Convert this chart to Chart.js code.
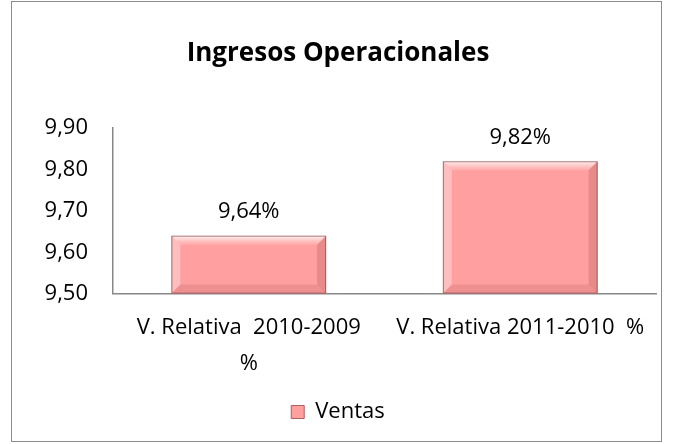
<!DOCTYPE html>
<html>
<head>
<meta charset="utf-8">
<script src="https://cdn.jsdelivr.net/npm/chart.js@4"></script>
<style>
  html, body { margin: 0; padding: 0; background: #fff; }
  #wrap { position: relative; width: 673px; height: 444px; }
  #frame { position: absolute; left: 11px; top: 1px; width: 649px; height: 439px; border: 1px solid #8c8c8c; }
  canvas { position: absolute; left: 0; top: 0; }
</style>
</head>
<body>
<div id="wrap">
  <div id="frame"></div>
  <canvas id="chart" width="673" height="444"></canvas>
</div>
<script>
const categories = [['V. Relativa  2010-2009', '%'], 'V. Relativa 2011-2010  %'];
const ventas = [9.64, 9.82];
const valueLabels = ['9,64%', '9,82%'];
const yTicks = [9.5, 9.6, 9.7, 9.8, 9.9];

const FONT = '"Open Sans", sans-serif';
const barFill = 'rgb(255,159,159)';

// bevelled look of the bars + value labels above them
const bevelPlugin = {
    id: 'bevel',
    afterDatasetsDraw(chart) {
        const ctx = chart.ctx;
        const meta = chart.getDatasetMeta(0);
        meta.data.forEach((bar, i) => {
            const l = bar.x - bar.width / 2, r = bar.x + bar.width / 2;
            const t = bar.y, b = Math.min(bar.base, chart.chartArea.bottom);
            const d = 9;
            ctx.save();
            // top
            let g = ctx.createLinearGradient(0, t, 0, t + d);
            g.addColorStop(0, 'rgba(255,255,255,0.9)');
            g.addColorStop(1, 'rgba(255,200,200,0.3)');
            ctx.fillStyle = g;
            ctx.beginPath();
            ctx.moveTo(l, t); ctx.lineTo(r, t); ctx.lineTo(r - d, t + d); ctx.lineTo(l + d, t + d); ctx.closePath();
            ctx.fill();
            // left
            ctx.fillStyle = 'rgba(255,215,215,0.55)';
            ctx.beginPath();
            ctx.moveTo(l, t); ctx.lineTo(l + d, t + d); ctx.lineTo(l + d, b - d); ctx.lineTo(l, b); ctx.closePath();
            ctx.fill();
            // right
            ctx.fillStyle = 'rgba(180,90,90,0.3)';
            ctx.beginPath();
            ctx.moveTo(r, t); ctx.lineTo(r - d, t + d); ctx.lineTo(r - d, b - d); ctx.lineTo(r, b); ctx.closePath();
            ctx.fill();
            // bottom
            ctx.fillStyle = 'rgba(190,100,100,0.25)';
            ctx.beginPath();
            ctx.moveTo(l, b); ctx.lineTo(l + d, b - d); ctx.lineTo(r - d, b - d); ctx.lineTo(r, b); ctx.closePath();
            ctx.fill();
            // outline
            ctx.strokeStyle = 'rgba(120,60,60,0.6)';
            ctx.lineWidth = 1;
            ctx.strokeRect(l + 0.5, t + 0.5, r - l - 1, b - t - 1);
            // value label
            ctx.fillStyle = '#000';
            ctx.font = '22px ' + FONT;
            ctx.textAlign = 'center';
            ctx.textBaseline = 'middle';
            ctx.fillText(valueLabels[i], bar.x, t - 24);
            ctx.restore();
        });
    }
};

new Chart(document.getElementById('chart'), {
    type: 'bar',
    data: {
        labels: categories,
        datasets: [{
            label: 'Ventas',
            data: ventas,
            backgroundColor: barFill,
            borderWidth: 0,
            categoryPercentage: 1,
            barPercentage: 0.57
        }]
    },
    options: {
        responsive: false,
        animation: false,
        layout: { padding: { left: 20, right: 17, top: 0, bottom: 11 } },
        plugins: {
            title: {
                display: true,
                text: 'Ingresos Operacionales',
                color: '#000',
                font: { family: FONT, size: 26, weight: 'bold' },
                padding: { top: 38, bottom: 59 }
            },
            legend: {
                position: 'bottom',
                labels: {
                    color: '#000',
                    font: { family: FONT, size: 22 },
                    boxWidth: 13,
                    boxHeight: 13,
                    padding: 3,
                    generateLabels: (chart) => [{
                        text: 'Ventas',
                        fillStyle: barFill,
                        strokeStyle: 'rgba(150,70,70,0.8)',
                        lineWidth: 1,
                        datasetIndex: 0
                    }]
                }
            },
            tooltip: { enabled: false }
        },
        scales: {
            x: {
                grid: { display: false, drawTicks: false },
                border: { color: '#888', width: 1.5 },
                ticks: {
                    color: '#000',
                    font: { family: FONT, size: 22, lineHeight: 1.6 },
                    padding: 17,
                    maxRotation: 0,
                    minRotation: 0,
                    autoSkip: false
                }
            },
            y: {
                min: 9.5,
                max: 9.9,
                afterFit: (s) => { s.width = 93; },
                afterBuildTicks: (s) => { s.ticks = yTicks.map(v => ({ value: v })); },
                grid: { display: false, drawTicks: false },
                border: { color: '#888', width: 1.5 },
                ticks: {
                    color: '#000',
                    font: { family: FONT, size: 22 },
                    padding: 25,
                    callback: (v) => v.toFixed(2).replace('.', ',')
                }
            }
        }
    },
    plugins: [bevelPlugin]
});
</script>
</body>
</html>
